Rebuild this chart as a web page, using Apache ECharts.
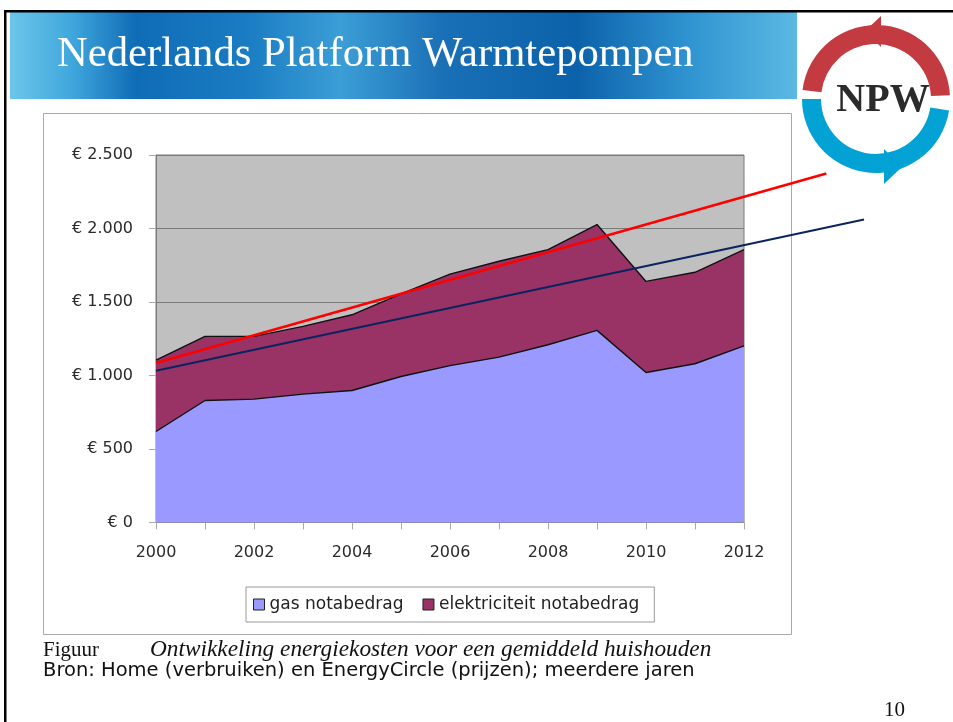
<!DOCTYPE html>
<html><head><meta charset="utf-8">
<script src="https://cdn.jsdelivr.net/npm/echarts@6/dist/echarts.min.js"></script>
<style>html,body{margin:0;padding:0;background:#fff;}#c{width:953px;height:722px;}</style>
</head><body><div id="c"></div>
<script>
// ---- data ----
const years = ['2000','2001','2002','2003','2004','2005','2006','2007','2008','2009','2010','2011','2012'];
const gasValues = [619, 830, 839, 873, 898, 993, 1067, 1125, 1209, 1307, 1020, 1080, 1202];
const elecValues = [486, 436, 427, 461, 515, 562, 623, 652, 647, 720, 620, 622, 654];
const yTickValues = [0, 500, 1000, 1500, 2000, 2500];
const seriesNames = ['gas notabedrag', 'elektriciteit notabedrag'];
// hand-drawn trend lines (year, euro) endpoints
const trendRed = [[2000, 1085], [2013.68, 2374]];
const trendBlue = [[2000, 1032], [2014.45, 2061]];

const titleText = 'Nederlands Platform Warmtepompen';
const captionLabel = 'Figuur';
const captionText = 'Ontwikkeling energiekosten voor een gemiddeld huishouden';
const sourceText = 'Bron: Home (verbruiken) en EnergyCircle (prijzen); meerdere jaren';
const pageNumber = '10';

const fmtEuro = v => '€ ' + String(v).replace(/\B(?=(\d{3})+(?!\d))/g, '.');
const deg = d => d * Math.PI / 180;

const chart = echarts.init(document.getElementById('c'), null, {renderer: 'canvas'});
const AX = '#7a7a7a';
const LBL = {color: '#2a2a2a', fontFamily: '"DejaVu Sans", sans-serif', fontSize: 16};

// plot geometry
const G = {left: 156, top: 155, width: 588, height: 367.5};
const yearSpan = 12, extSpan = 15; // overlay grid spans 2000..2015 with same scale
const G2 = {left: G.left, top: G.top, width: G.width * extSpan / yearSpan, height: G.height};

chart.setOption({
  animation: false,
  backgroundColor: '#fff',
  grid: [Object.assign({
    show: true, backgroundColor: '#c0c0c0', borderColor: AX, borderWidth: 1,
    outerBoundsMode: 'none', containLabel: false
  }, G), Object.assign({show: false, outerBoundsMode: 'none', containLabel: false}, G2)],
  legend: {
    data: seriesNames,
    left: 246, top: 587,
    padding: [9, 15, 9, 7],
    itemGap: 19, itemWidth: 11, itemHeight: 11,
    icon: 'rect',
    itemStyle: {borderColor: '#222', borderWidth: 1},
    backgroundColor: '#fff', borderColor: '#9a9a9a', borderWidth: 1,
    textStyle: {color: '#222', fontFamily: '"DejaVu Sans", sans-serif', fontSize: 17},
    selectedMode: false
  },
  xAxis: [{
    gridIndex: 0, type: 'category', data: years, boundaryGap: false,
    axisLine: {show: true, lineStyle: {color: AX}},
    axisTick: {show: true, interval: 0, length: 7, lineStyle: {color: '#aaa'}},
    axisLabel: Object.assign({interval: 1, margin: 22}, LBL),
    splitLine: {show: false}
  }, {
    gridIndex: 1, type: 'value', min: 2000, max: 2000 + extSpan, show: false,
    splitLine: {show: false}
  }],
  yAxis: [{
    gridIndex: 0, type: 'value', min: yTickValues[0], max: yTickValues[yTickValues.length - 1], interval: 500,
    axisLine: {show: true, lineStyle: {color: AX}},
    axisTick: {show: true, length: 7, lineStyle: {color: '#aaa'}},
    axisLabel: Object.assign({margin: 23, formatter: fmtEuro}, LBL),
    splitLine: {show: true, lineStyle: {color: AX, width: 1}}
  }, {
    gridIndex: 1, type: 'value', min: yTickValues[0], max: yTickValues[yTickValues.length - 1], show: false,
    splitLine: {show: false}
  }],
  series: [{
    name: seriesNames[0], type: 'line', stack: 'total', data: gasValues,
    symbol: 'none', itemStyle: {color: '#9999ff'},
    lineStyle: {color: '#111', width: 1.4},
    areaStyle: {color: '#9999ff', opacity: 1}, emphasis: {disabled: true}
  }, {
    name: seriesNames[1], type: 'line', stack: 'total', data: elecValues,
    symbol: 'none', itemStyle: {color: '#993366'},
    lineStyle: {color: '#111', width: 1.4},
    areaStyle: {color: '#993366', opacity: 1}, emphasis: {disabled: true}
  }, {
    name: 'trend1', type: 'line', xAxisIndex: 1, yAxisIndex: 1, data: trendRed, clip: false,
    symbol: 'none', lineStyle: {color: '#ff0000', width: 2.5}, z: 5, emphasis: {disabled: true}
  }, {
    name: 'trend2', type: 'line', xAxisIndex: 1, yAxisIndex: 1, data: trendBlue, clip: false,
    symbol: 'none', lineStyle: {color: '#0a2460', width: 2}, z: 5, emphasis: {disabled: true}
  }],
  graphic: [
    // title bar
    {type: 'rect', shape: {x: 10, y: 12, width: 787, height: 87}, z: -10,
     style: {fill: new echarts.graphic.LinearGradient(0, 0, 1, 0, [
       {offset: 0, color: '#6cc6ea'}, {offset: 0.08, color: '#3fa6dc'},
       {offset: 0.16, color: '#0f6cb6'}, {offset: 0.3, color: '#1a7cc2'},
       {offset: 0.42, color: '#3b9ed6'}, {offset: 0.55, color: '#1a70b6'},
       {offset: 0.72, color: '#0c62aa'}, {offset: 0.86, color: '#2f93d0'},
       {offset: 1, color: '#5bb9e3'}])}},
    {type: 'text', z: 10, style: {text: titleText, x: 57, y: 55, verticalAlign: 'middle',
      fill: '#fff', font: '42.7px "Liberation Serif", serif'}},
    // frame lines
    {type: 'rect', shape: {x: 4, y: 10, width: 949, height: 2.5}, style: {fill: '#000'}, z: 11},
    {type: 'rect', shape: {x: 4, y: 10, width: 2.5, height: 712}, style: {fill: '#000'}, z: 11},
    // chart frame
    {type: 'rect', shape: {x: 43.5, y: 113.5, width: 748, height: 521}, z: -5,
     style: {fill: 'none', stroke: '#a8a8a8', lineWidth: 1}},
    // logo
    {type: 'sector', z: 10, shape: {cx: 876, cy: 99, r: 74, r0: 55, startAngle: deg(-173), endAngle: deg(-3), clockwise: true},
     style: {fill: '#c33b41'}},
    {type: 'polygon', z: 10, shape: {points: [[881, 16], [881, 47], [865, 31]]}, style: {fill: '#c33b41'}},
    {type: 'sector', z: 10, shape: {cx: 876, cy: 99, r: 74, r0: 55, startAngle: deg(9), endAngle: deg(180), clockwise: true},
     style: {fill: '#03a2d4'}},
    {type: 'polygon', z: 10, shape: {points: [[884, 149], [884, 184], [902, 167]]}, style: {fill: '#03a2d4'}},
    {type: 'text', z: 11, style: {text: 'NPW', x: 883, y: 101, align: 'center', verticalAlign: 'middle',
      fill: '#2b2b2b', font: 'bold 40px "Liberation Serif", serif'}},
    // captions
    {type: 'text', style: {text: captionLabel, x: 43, y: 650, verticalAlign: 'middle',
      fill: '#111', font: '21px "Liberation Serif", serif'}},
    {type: 'text', style: {text: captionText, x: 150, y: 650, verticalAlign: 'middle',
      fill: '#111', font: 'italic 23.3px "Liberation Serif", serif'}},
    {type: 'text', style: {text: sourceText, x: 43, y: 671, verticalAlign: 'middle',
      fill: '#111', font: '19.5px "DejaVu Sans", sans-serif'}},
    {type: 'text', style: {text: pageNumber, x: 905, y: 710, align: 'right', verticalAlign: 'middle',
      fill: '#111', font: '21px "Liberation Serif", serif'}}
  ]
});
</script></body></html>
